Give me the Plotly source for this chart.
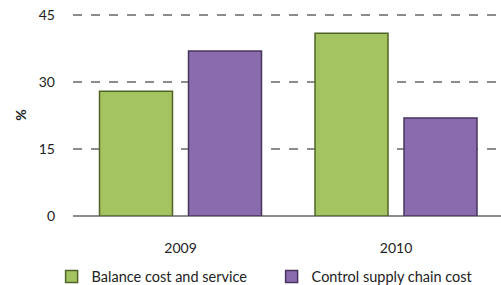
import plotly.graph_objects as go

years = ["2009", "2010"]
balance = [28, 41]
control = [37, 22]
y_ticks = [0, 15, 30, 45]

font = "Lato"
fig = go.Figure()
fig.add_trace(go.Bar(
    x=years, y=balance, name="Balance cost and service",
    marker=dict(color="#A4C462", line=dict(color="#4F6426", width=1.5)),
))
fig.add_trace(go.Bar(
    x=years, y=control, name="Control supply chain cost",
    marker=dict(color="#8A6CAE", line=dict(color="#47355E", width=1.5)),
))
fig.update_layout(
    width=501, height=285,
    margin=dict(l=73, r=0, t=14, b=69, autoexpand=False),
    paper_bgcolor="white", plot_bgcolor="white",
    barmode="group", bargap=0.174, bargroupgap=0.18,
    font=dict(family=font, size=14, color="#222222"),
    showlegend=True,
    legend=dict(orientation="h", x=-0.05, xanchor="left", y=-0.30, yanchor="middle",
                font=dict(size=14.5), entrywidth=175, entrywidthmode="pixels",
                traceorder="normal", bgcolor="rgba(0,0,0,0)"),
)
fig.update_xaxes(
    showgrid=False, showline=False, ticks="", automargin=False,
    range=[-0.4988, 1.4872],
    ticklabelstandoff=22, tickfont=dict(size=14),
)
fig.update_yaxes(
    range=[0, 45.3], tickvals=y_ticks, showgrid=True, automargin=False,
    gridcolor="#8C8C8C", griddash="dash", gridwidth=1.5,
    zeroline=True, zerolinecolor="#8C8C8C", zerolinewidth=1.5,
    showline=False, ticks="", ticklabelstandoff=17,
    tickfont=dict(size=14),
    title=dict(text="<b>%</b>", standoff=8, font=dict(size=14)),
)
fig.write_html("out.html", config={"displayModeBar": False},
               post_script="document.body.style.margin='0px';document.body.style.overflow='hidden';")
